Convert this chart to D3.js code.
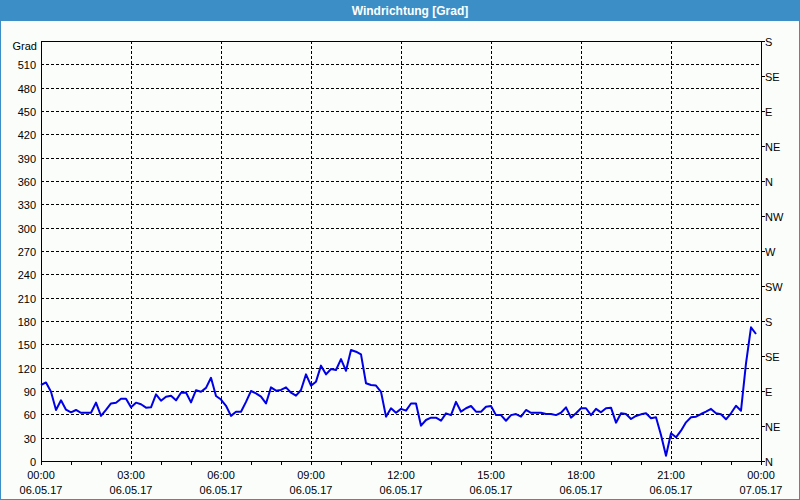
<!DOCTYPE html>
<html><head><meta charset="utf-8">
<script src="https://cdn.jsdelivr.net/npm/d3@7"></script>
<style>
html,body{margin:0;padding:0;background:#fbfdfb;}
svg{display:block;font-family:"Liberation Sans",Arial,sans-serif;}
</style></head>
<body>
<svg id="c" width="800" height="500"></svg>
<script>
const title = "Windrichtung [Grad]";
const yUnit = "Grad";
const startTime = "2017-05-06T00:00:00";
const stepMinutes = 10;
const yTicks = [0,30,60,90,120,150,180,210,240,270,300,330,360,390,420,450,480,510];
const compassValues = [0,45,90,135,180,225,270,315,360,405,450,495,540];
const compassLabels = ["N","NE","E","SE","S","SW","W","NW","N","NE","E","SE","S"];
const values = [
 97.7,101,89,65.6,78,66,62.6,65.6,62,62,62,75,58,65.6,74,75,80,80,69,75,
 73,68.6,69,85.7,77.5,82.7,84,78,87.8,88,75.4,91,89,94,107,83.6,79,71,58,63.4,
 63.4,76,90,87,82.7,74,94.7,90.4,91.3,94.7,87.8,84,91.3,111.4,96.9,102,122.6,111.4,118.3,117,
 131,116,142.7,140.5,137,100,97.7,97,89,57,67.8,62,67,64.7,74,74,45.4,52.7,55.7,55.7,
 51.8,61.3,59,76,63.4,67.8,70.7,63.4,63.4,69.8,70.7,59,59,51.8,59,60.4,57,65.6,62,62,
 62,60.4,60.4,59,62,69,55.7,61.3,67.8,67.8,59,67,62.6,67.8,68.6,49.3,61.3,60.4,54,57.9,
 60,61.3,54.9,56.2,33.4,6.8,35.6,30.5,39,49.7,56.2,57,60.4,63.4,67,61.3,60,53.6,61.3,71,
 64.7,125.6,171.9,163.3
];

const svg = d3.select("#c");
const W = 800, H = 500;
const m = {left:41, right:761, top:41, bottom:461};

// frame
svg.append("rect").attr("x",0).attr("y",0).attr("width",W).attr("height",H).attr("fill","#fbfdfb");
svg.append("rect").attr("x",0).attr("y",0).attr("width",W).attr("height",21).attr("fill","#3c8fc6");
svg.append("rect").attr("x",0.5).attr("y",0.5).attr("width",W-1).attr("height",H-1)
  .attr("fill","none").attr("stroke","#3c8fc6").attr("stroke-width",1);
svg.append("text").attr("x",410).attr("y",11).attr("text-anchor","middle")
  .attr("dominant-baseline","central").attr("fill","#ffffff").attr("font-weight","bold")
  .attr("font-size","12px").text(title);

const parse = d3.timeParse("%Y-%m-%dT%H:%M:%S");
const t0 = parse(startTime);
const t1 = d3.timeDay.offset(t0,1);
const data = values.map((v,i)=>({t:d3.timeMinute.offset(t0,i*stepMinutes), v}));

const x = d3.scaleTime().domain([t0,t1]).range([m.left,m.right]);
const y = d3.scaleLinear().domain([0,540]).range([m.bottom,m.top]);

// grid
const g = svg.append("g");
const majorTimes = d3.timeHour.every(3).range(t0, d3.timeMinute.offset(t1,1));
g.selectAll("line.vg").data(majorTimes.filter(d=>+d!==+t0 && +d!==+t1)).join("line")
  .attr("x1",d=>Math.round(x(d))+0.5).attr("x2",d=>Math.round(x(d))+0.5)
  .attr("y1",m.top).attr("y2",m.bottom)
  .attr("stroke","#000").attr("stroke-dasharray","3,2").attr("stroke-width",1);
g.selectAll("line.hg").data(yTicks.filter(d=>d>0)).join("line")
  .attr("x1",m.left).attr("x2",m.right)
  .attr("y1",d=>Math.round(y(d))+0.5).attr("y2",d=>Math.round(y(d))+0.5)
  .attr("stroke","#000").attr("stroke-dasharray","3,2").attr("stroke-width",1);

// plot border
svg.append("rect").attr("x",m.left+0.5).attr("y",m.top+0.5)
  .attr("width",m.right-m.left).attr("height",m.bottom-m.top)
  .attr("fill","none").attr("stroke","#000").attr("stroke-width",1);

// bottom axis ticks (hourly)
const hours = d3.timeHour.every(1).range(t0, d3.timeMinute.offset(t1,1));
svg.append("g").selectAll("line").data(hours).join("line")
  .attr("x1",d=>Math.round(x(d))+0.5).attr("x2",d=>Math.round(x(d))+0.5)
  .attr("y1",m.bottom).attr("y2",m.bottom+4).attr("stroke","#000");

const fTime = d3.timeFormat("%H:%M"), fDate = d3.timeFormat("%d.%m.%y");
const xl = svg.append("g").attr("font-size","11px").attr("fill","#000").attr("text-anchor","middle");
xl.selectAll("text.t").data(majorTimes).join("text").attr("class","t")
  .attr("x",d=>x(d)).attr("y",475).attr("dominant-baseline","central").text(d=>fTime(d));
xl.selectAll("text.d").data(majorTimes).join("text").attr("class","d")
  .attr("x",d=>x(d)).attr("y",490).attr("dominant-baseline","central").text(d=>fDate(d));

// left labels
const yl = svg.append("g").attr("font-size","11px").attr("fill","#000").attr("text-anchor","end");
yl.selectAll("text").data(yTicks).join("text")
  .attr("x",36).attr("y",d=>y(d)+1).attr("dominant-baseline","central").text(d=>d);
svg.append("text").attr("x",37).attr("y",46).attr("text-anchor","end")
  .attr("dominant-baseline","central").attr("font-size","11px").text(yUnit);

// right compass axis
const rc = svg.append("g");
rc.selectAll("line").data(compassValues).join("line")
  .attr("x1",m.right).attr("x2",m.right+4)
  .attr("y1",d=>Math.round(y(d))+0.5).attr("y2",d=>Math.round(y(d))+0.5).attr("stroke","#000");
rc.selectAll("text").data(compassValues).join("text")
  .attr("x",765).attr("y",d=>y(d)+1).attr("dominant-baseline","central")
  .attr("font-size","11px").text((d,i)=>compassLabels[i]);

// line
svg.append("path").datum(data)
  .attr("d", d3.line().x(d=>x(d.t)).y(d=>y(d.v)))
  .attr("fill","none").attr("stroke","#0000e6").attr("stroke-width",2).attr("stroke-linejoin","round");
</script>
</body></html>
